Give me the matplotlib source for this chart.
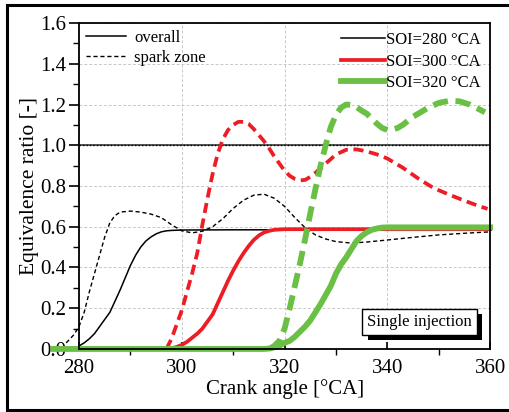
import matplotlib
matplotlib.use("Agg")
import matplotlib.pyplot as plt
from matplotlib.ticker import MultipleLocator
from matplotlib.lines import Line2D
from matplotlib import patheffects

plt.rcParams['font.family'] = 'serif'
plt.rcParams['font.serif'] = ['Liberation Serif', 'Times New Roman', 'DejaVu Serif']

# SOI = 280 deg CA
ca_280_all = [280, 281, 282, 283, 284, 285, 286, 287, 288, 289, 290, 291, 292, 293,
              294, 295, 296, 297, 298, 300, 310, 320, 340, 360]
phi_280_all = [0.015, 0.03, 0.05, 0.075, 0.11, 0.145, 0.18, 0.235, 0.29, 0.35, 0.41,
               0.46, 0.50, 0.53, 0.55, 0.565, 0.575, 0.58, 0.582, 0.584,
               0.585, 0.585, 0.585, 0.585]
ca_280_spk = [277.5, 279, 280, 281, 282, 283, 284, 285, 286, 287, 288, 290, 292, 294,
              296, 298, 300, 302, 304, 306, 308, 310, 312, 314, 316, 318, 320, 322,
              324, 326, 328, 330, 333, 336, 340, 345, 350, 355, 360]
phi_280_spk = [0.03, 0.07, 0.11, 0.18, 0.28, 0.37, 0.46, 0.55, 0.62, 0.655, 0.672,
               0.677, 0.672, 0.662, 0.645, 0.61, 0.58, 0.57, 0.578, 0.60, 0.64, 0.69,
               0.73, 0.755, 0.76, 0.74, 0.70, 0.645, 0.595, 0.56, 0.54, 0.527, 0.52,
               0.525, 0.535, 0.548, 0.56, 0.568, 0.575]

# SOI = 300 deg CA
ca_300_all = [297.5, 299, 300, 301, 302, 303, 304, 305, 306, 307, 308, 309, 310, 311,
              312, 313, 314, 315, 316, 317, 318, 320, 340, 360]
phi_300_all = [0.0, 0.01, 0.02, 0.035, 0.055, 0.075, 0.1, 0.135, 0.17, 0.225, 0.28,
               0.335, 0.385, 0.43, 0.47, 0.505, 0.535, 0.557, 0.572, 0.58, 0.585,
               0.588, 0.588, 0.588]
ca_300_spk = [297, 298, 299, 300, 301, 302, 303, 304, 305, 306, 307, 308, 309, 310,
              311, 312, 313, 314, 315, 316, 317, 318, 319, 320, 321, 322, 323, 324,
              325, 326, 328, 330, 332, 334, 336, 338, 340, 343, 346, 349, 352, 355,
              358, 359.5]
phi_300_spk = [0.0, 0.05, 0.12, 0.19, 0.28, 0.37, 0.47, 0.61, 0.74, 0.86, 0.96, 1.03,
               1.075, 1.10, 1.115, 1.115, 1.105, 1.08, 1.05, 1.02, 0.985, 0.945, 0.91,
               0.875, 0.85, 0.835, 0.828, 0.83, 0.845, 0.865, 0.91, 0.955, 0.978,
               0.98, 0.97, 0.955, 0.935, 0.89, 0.837, 0.79, 0.758, 0.728, 0.70, 0.688]

# SOI = 320 deg CA
ca_320_all = [275, 316, 317, 318, 319, 320, 321, 322, 323, 324, 325, 326, 327, 328,
              329, 330, 331, 332, 333, 334, 335, 336, 337, 338, 339, 340, 360]
phi_320_all = [0.0, 0.0, 0.002, 0.008, 0.016, 0.03, 0.04, 0.06, 0.085, 0.11, 0.14,
               0.18, 0.22, 0.265, 0.31, 0.37, 0.415, 0.45, 0.49, 0.53, 0.555, 0.573,
               0.585, 0.592, 0.596, 0.597, 0.597]
ca_320_spk = [317, 318, 319, 320, 321, 322, 323, 324, 325, 326, 327, 328, 329, 330,
              331, 332, 333, 334, 335, 336, 337, 338, 339, 340, 341, 342, 343, 344,
              345, 346, 348, 350, 352, 354, 356, 358, 359]
phi_320_spk = [0.0, 0.015, 0.04, 0.1, 0.2, 0.31, 0.42, 0.54, 0.665, 0.785, 0.9, 1.0,
               1.09, 1.15, 1.185, 1.2, 1.198, 1.188, 1.17, 1.155, 1.13, 1.105, 1.085,
               1.075, 1.077, 1.085, 1.1, 1.12, 1.14, 1.155, 1.185, 1.208, 1.218,
               1.216, 1.2, 1.175, 1.162]

soi_labels = ["SOI=280 °CA", "SOI=300 °CA", "SOI=320 °CA"]
mode_labels = ["overall", "spark zone"]

black, red, green = "black", "#ee1c24", "#6abf45"
lw_blk, lw_red, lw_grn = 1.1, 2.7, 4.2
ls_blk, ls_red, ls_grn = (0, (3, 2)), (0, (2.7, 1.5)), (0, (2.6, 1.3))

fig = plt.figure(figsize=(5.10, 4.12), dpi=100)
ax = fig.add_axes([0.155, 0.153, 0.806, 0.791])

# outer frame
for xs, ys in [([0.014, 0.014], [0.005, 0.988]), ([0.014, 1.0], [0.988, 0.988]),
               ([0.014, 1.0], [0.005, 0.005])]:
    fig.add_artist(Line2D(xs, ys, transform=fig.transFigure, color="k", lw=2.2))

ax.grid(True, which="major", color="#c8c8c8", ls=(0, (3, 2)), lw=0.7)
ax.set_axisbelow(True)
ax.axhline(1.0, color="#555555", lw=1.4, zorder=1.5)
ax.axhline(1.0, color="k", ls=(0, (1, 1.5)), lw=1.0, zorder=1.6)

kw = dict(clip_on=False)
ax.plot(ca_280_all, phi_280_all, color=black, lw=lw_blk, **kw)
ax.plot(ca_280_spk, phi_280_spk, color=black, lw=1.0, ls=ls_blk, **kw)
ax.plot(ca_300_all, phi_300_all, color=red, lw=lw_red, **kw)
ax.plot(ca_300_spk, phi_300_spk, color=red, lw=lw_red, ls=ls_red, **kw)
ax.plot(ca_320_all, phi_320_all, color=green, lw=lw_grn, **kw)
ax.plot(ca_320_spk, phi_320_spk, color=green, lw=lw_grn, ls=ls_grn, **kw)

ax.set_xlim(280, 360)
ax.set_ylim(0, 1.6)
ax.xaxis.set_major_locator(MultipleLocator(20))
ax.xaxis.set_minor_locator(MultipleLocator(10))
ax.yaxis.set_major_locator(MultipleLocator(0.2))
ax.yaxis.set_minor_locator(MultipleLocator(0.1))
ax.yaxis.set_major_formatter(plt.FormatStrFormatter("%.1f"))
ax.tick_params(axis="x", which="major", direction="in", length=5, width=1.2,
               labelsize=15, pad=7)
ax.tick_params(axis="x", which="minor", direction="out", length=4, width=1.0)
ax.tick_params(axis="y", which="major", direction="out", length=7, width=1.2,
               labelsize=15, pad=2)
ax.tick_params(axis="y", which="minor", direction="out", length=4, width=1.0)
for s in ax.spines.values():
    s.set_linewidth(1.3)

ax.set_xlabel("Crank angle [°CA]", fontsize=15, labelpad=1)
ax.set_ylabel("Equivalence ratio [-]", fontsize=15.5, labelpad=1)

# line style legend
h_mode = [Line2D([], [], color="k", lw=lw_blk),
          Line2D([], [], color="k", lw=1.0, ls=ls_blk)]
leg1 = ax.legend(h_mode, mode_labels, loc="upper left", frameon=False, fontsize=12,
                 handlelength=2.4, handletextpad=0.5, borderaxespad=0.1,
                 labelspacing=0.25, borderpad=0.3)
ax.add_artist(leg1)

h_soi = [Line2D([], [], color=black, lw=lw_blk),
         Line2D([], [], color=red, lw=lw_red),
         Line2D([], [], color=green, lw=lw_grn)]
ax.legend(h_soi, soi_labels, loc="upper right", frameon=False, fontsize=12,
          handlelength=2.6, handletextpad=0.1, borderaxespad=0.15,
          labelspacing=0.32, borderpad=0.4)

# annotation box with drop shadow
t = ax.text(0.828, 0.084, "Single injection", transform=ax.transAxes, fontsize=12,
            ha="center", va="center", zorder=6,
            bbox=dict(boxstyle="square,pad=0.3", fc="white", ec="black", lw=1.0))
t.get_bbox_patch().set_path_effects([
    patheffects.SimplePatchShadow(offset=(4, -4), shadow_rgbFace="k", alpha=1.0),
    patheffects.Normal()])

fig.savefig("out.png", dpi=100)
